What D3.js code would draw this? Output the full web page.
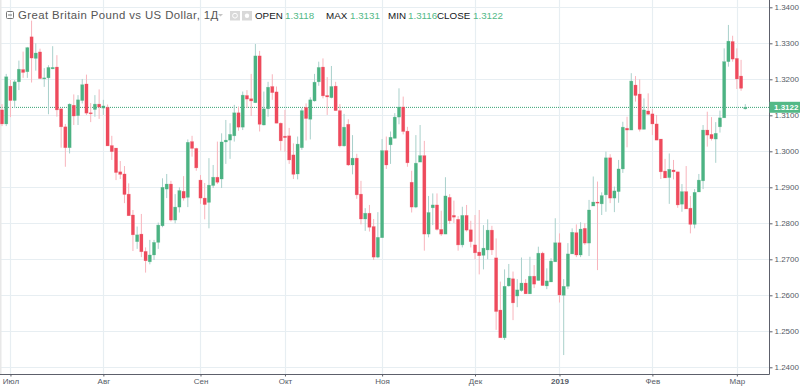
<!DOCTYPE html>
<html>
<head>
<meta charset="utf-8">
<script src="https://cdn.jsdelivr.net/npm/d3@7/dist/d3.min.js"></script>
<style>
  html, body { margin: 0; padding: 0; background: #fff; }
  svg { display: block; font-family: "Liberation Sans", Arial, sans-serif; }
  .axis path, .axis line { stroke: #5d606b; }
  .axis text { fill: #555b66; font-size: 8px; }
</style>
</head>
<body>
<svg width="800" height="387"></svg>
<script>
const opens = [
  1.3115,1.3076,1.3181,1.3141,1.3193,1.3227,1.3221,1.3318,1.3258,1.3276,
  1.3202,1.3204,1.3229,1.3234,1.3118,1.3068,1.3010,1.3128,1.3099,1.3141,
  1.3187,1.3107,1.3116,1.3131,1.3120,1.3122,1.3016,1.3009,1.2943,1.2937,
  1.2881,1.2823,1.2749,1.2770,1.2722,1.2693,1.2712,1.2747,1.2793,1.2895,
  1.2909,1.2809,1.2845,1.2889,1.2872,1.3027,1.3008,1.2920,1.2870,1.2858,
  1.2905,1.2928,1.2923,1.3026,1.3031,1.3043,1.3107,1.3067,1.3155,1.3146,
  1.3135,1.3265,1.3073,1.3118,1.3180,1.3165,1.3078,1.3042,1.3043,1.2990,
  1.2937,1.3010,1.3122,1.3089,1.3140,1.3193,1.3234,1.3155,1.3149,1.3181,
  1.3113,1.3015,1.3075,1.2962,1.2981,1.2881,1.2812,1.2828,1.2791,1.2706,
  1.2760,1.3002,1.3018,1.3036,1.3095,1.3123,1.3056,1.2914,1.2845,1.2970,
  1.2988,1.2770,1.2843,1.2851,1.2783,1.2770,1.2872,1.2822,1.2811,1.2740,
  1.2822,1.2782,1.2740,1.2720,1.2711,1.2726,1.2781,1.2704,1.2559,1.2482,
  1.2626,1.2646,1.2598,1.2613,1.2634,1.2604,1.2653,1.2641,1.2717,1.2626,
  1.2637,1.2693,1.2746,1.2600,1.2625,1.2715,1.2774,1.2712,1.2786,1.2745,
  1.2848,1.2859,1.2854,1.2879,1.2982,1.2870,1.2888,1.2951,1.3064,1.3059,
  1.3184,1.3159,1.3061,1.3112,1.3104,1.3076,1.3034,1.2945,1.2927,1.2948,
  1.2943,1.2853,1.2888,1.2842,1.2797,1.2887,1.2918,1.3059,1.3047,1.3034,
  1.3068,1.3093,1.3249,1.3305,1.3258,1.3209,1.3118
];
const closes = [
  1.3076,1.3207,1.3141,1.3193,1.3228,1.3219,1.3288,1.3259,1.3273,1.3202,
  1.3204,1.3233,1.3233,1.3115,1.3068,1.3010,1.3131,1.3098,1.3143,1.3185,
  1.3106,1.3106,1.3131,1.3123,1.3126,1.3015,1.2999,1.2941,1.2936,1.2880,
  1.2821,1.2768,1.2768,1.2721,1.2696,1.2712,1.2747,1.2795,1.2900,1.2909,
  1.2809,1.2845,1.2891,1.2870,1.3025,1.3008,1.2954,1.2870,1.2852,1.2906,
  1.2928,1.2914,1.3026,1.3031,1.3047,1.3107,1.3067,1.3156,1.3145,1.3140,
  1.3265,1.3075,1.3118,1.3178,1.3163,1.3078,1.3029,1.3038,1.2976,1.2936,
  1.3020,1.3113,1.3091,1.3143,1.3192,1.3233,1.3154,1.3151,1.3180,1.3113,
  1.3015,1.3067,1.2962,1.2981,1.2879,1.2812,1.2828,1.2789,1.2706,1.2761,
  1.3002,1.2962,1.3039,1.3095,1.3123,1.3055,1.2968,1.2845,1.2967,1.2988,
  1.2770,1.2830,1.2851,1.2783,1.2770,1.2876,1.2807,1.2817,1.2740,1.2822,
  1.2781,1.2749,1.2718,1.2710,1.2731,1.2781,1.2726,1.2555,1.2482,1.2625,
  1.2648,1.2579,1.2615,1.2634,1.2604,1.2653,1.2631,1.2717,1.2627,1.2640,
  1.2695,1.2746,1.2601,1.2625,1.2715,1.2775,1.2712,1.2784,1.2745,1.2837,
  1.2859,1.2856,1.2877,1.2982,1.2870,1.2890,1.2951,1.3067,1.3059,1.3195,
  1.3155,1.3061,1.3115,1.3103,1.3076,1.3031,1.2943,1.2926,1.2950,1.2943,
  1.2851,1.2888,1.2840,1.2797,1.2886,1.2920,1.3059,1.3045,1.3035,1.3050,
  1.3093,1.3249,1.3306,1.3256,1.3201,1.3175,1.3122
];
const highs = [
  1.3131,1.3215,1.3198,1.3198,1.3252,1.3277,1.3290,1.3363,1.3300,1.3285,
  1.3231,1.3239,1.3292,1.3267,1.3118,1.3076,1.3133,1.3158,1.3156,1.3201,
  1.3213,1.3134,1.3156,1.3172,1.3143,1.3130,1.3043,1.3009,1.2973,1.2959,
  1.2911,1.2837,1.2791,1.2826,1.2733,1.2754,1.2754,1.2802,1.2925,1.2937,
  1.2918,1.2881,1.2900,1.2931,1.3033,1.3043,1.3010,1.2934,1.2912,1.2981,
  1.2962,1.3027,1.3050,1.3087,1.3078,1.3129,1.3124,1.3166,1.3170,1.3215,
  1.3298,1.3279,1.3166,1.3193,1.3214,1.3180,1.3080,1.3115,1.3065,1.3022,
  1.3041,1.3120,1.3133,1.3150,1.3215,1.3249,1.3258,1.3206,1.3237,1.3193,
  1.3131,1.3104,1.3089,1.3045,1.2993,1.2918,1.2842,1.2851,1.2812,1.2831,
  1.3034,1.3041,1.3055,1.3106,1.3175,1.3152,1.3068,1.2946,1.3045,1.3073,
  1.3029,1.2876,1.2883,1.2883,1.2835,1.2928,1.2881,1.2863,1.2820,1.2846,
  1.2851,1.2807,1.2823,1.2837,1.2795,1.2811,1.2793,1.2758,1.2638,1.2672,
  1.2687,1.2666,1.2645,1.2705,1.2645,1.2707,1.2684,1.2735,1.2721,1.2675,
  1.2703,1.2814,1.2772,1.2645,1.2745,1.2786,1.2797,1.2803,1.2800,1.2865,
  1.2930,1.2916,1.2886,1.2999,1.2992,1.2902,1.2976,1.3082,1.3096,1.3217,
  1.3209,1.3200,1.3147,1.3161,1.3117,1.3101,1.3034,1.2979,1.2994,1.2976,
  1.2943,1.2909,1.2959,1.2876,1.2895,1.2937,1.3073,1.3110,1.3095,1.3081,
  1.3113,1.3286,1.3351,1.3321,1.3286,1.3254,1.3131
];
const lows = [
  1.3070,1.3070,1.3095,1.3120,1.3170,1.3204,1.3204,1.3191,1.3224,1.3202,
  1.3179,1.3103,1.3228,1.3096,1.3010,1.2957,1.2994,1.3073,1.3073,1.3133,
  1.3101,1.3081,1.3096,1.3090,1.3101,1.3015,1.2976,1.2920,1.2923,1.2856,
  1.2821,1.2723,1.2729,1.2706,1.2663,1.2686,1.2698,1.2729,1.2789,1.2870,
  1.2805,1.2800,1.2830,1.2863,1.2845,1.2985,1.2946,1.2854,1.2811,1.2786,
  1.2898,1.2909,1.2898,1.2965,1.2979,1.3027,1.3057,1.3059,1.3120,1.3098,
  1.3134,1.3055,1.3072,1.3096,1.3143,1.3078,1.3002,1.2999,1.2965,1.2923,
  1.2922,1.3004,1.3030,1.3033,1.3138,1.3182,1.3147,1.3101,1.3147,1.3113,
  1.3011,1.3013,1.2959,1.2936,1.2868,1.2797,1.2779,1.2777,1.2698,1.2703,
  1.2760,1.2951,1.2965,1.3036,1.3075,1.3047,1.2957,1.2830,1.2842,1.2970,
  1.2724,1.2761,1.2795,1.2780,1.2765,1.2770,1.2798,1.2801,1.2724,1.2733,
  1.2777,1.2733,1.2700,1.2658,1.2672,1.2700,1.2712,1.2504,1.2482,1.2476,
  1.2624,1.2531,1.2567,1.2610,1.2604,1.2604,1.2620,1.2641,1.2627,1.2617,
  1.2637,1.2693,1.2580,1.2434,1.2617,1.2715,1.2706,1.2706,1.2740,1.2709,
  1.2848,1.2670,1.2823,1.2832,1.2856,1.2831,1.2857,1.2940,1.3011,1.3059,
  1.3138,1.3055,1.3061,1.3101,1.3045,1.3031,1.2923,1.2926,1.2854,1.2922,
  1.2843,1.2832,1.2840,1.2772,1.2786,1.2887,1.2895,1.3013,1.3030,1.2968,
  1.3052,1.3093,1.3235,1.3249,1.3173,1.3168,1.3116
];
const priceTicks = [1.24,1.25,1.26,1.27,1.28,1.29,1.30,1.31,1.32,1.33,1.34];
const monthIndex = [2,24,47,67,90,112,132,154,174];
const monthLabels = ['Июл','Авг','Сен','Окт','Ноя','Дек','2019','Фев','Мар'];
const lastPrice = 1.3122;
const legendItems = [
  ['OPEN','1.3118',255,285],
  ['MAX','1.3131',326,350],
  ['MIN','1.3116',388,408],
  ['CLOSE','1.3122',437,473]
];

const green = '#4cb383';
const red = '#ee4a5c';
const greenWick = '#a9d0cb';
const redWick = '#f8b4bc';
const gridColor = '#e7eef2';

const svg = d3.select('svg');
const plotRight = 769.5;
const plotBottom = 374.5;

const xScale = d3.scaleLinear().domain([0, 176]).range([2, 745.3]);
const yScale = d3.scaleLinear().domain([1.24, 1.34]).range([367.3, 7.3]);

const candles = opens.map((o, i) => ({ i, o, c: closes[i], h: highs[i], l: lows[i] }));
const isUp = d => d.c >= d.o;

// grid
svg.append('g').selectAll('line').data(priceTicks).enter().append('line')
    .attr('x1', 0).attr('x2', plotRight)
    .attr('y1', d => Math.round(yScale(d)) + 0.5).attr('y2', d => Math.round(yScale(d)) + 0.5)
    .attr('stroke', gridColor).attr('stroke-width', 1.2);

svg.append('g').selectAll('line').data(monthIndex).enter().append('line')
    .attr('x1', d => Math.round(xScale(d)) + 0.5).attr('x2', d => Math.round(xScale(d)) + 0.5)
    .attr('y1', 0).attr('y2', plotBottom)
    .attr('stroke', gridColor).attr('stroke-width', 1.2);

svg.append('rect').attr('x', 0).attr('y', 0).attr('width', 1.5).attr('height', plotBottom).attr('fill', '#e8e8e8');

// last price line
svg.append('line')
    .attr('x1', 0).attr('x2', plotRight)
    .attr('y1', yScale(lastPrice)).attr('y2', yScale(lastPrice))
    .attr('stroke', '#3aa377').attr('stroke-width', 1).attr('stroke-dasharray', '1 1');

// wicks then bodies
svg.append('g').selectAll('line').data(candles).enter().append('line')
    .attr('x1', d => xScale(d.i)).attr('x2', d => xScale(d.i))
    .attr('y1', d => yScale(d.h)).attr('y2', d => yScale(d.l))
    .attr('stroke', d => isUp(d) ? greenWick : redWick).attr('stroke-width', 1);

svg.append('g').selectAll('rect').data(candles).enter().append('rect')
    .attr('x', d => xScale(d.i) - 1.6)
    .attr('width', 3.2)
    .attr('y', d => yScale(Math.max(d.o, d.c)))
    .attr('height', d => Math.max(1, Math.abs(yScale(d.o) - yScale(d.c))))
    .attr('fill', d => isUp(d) ? green : red)
    .attr('stroke', d => isUp(d) ? green : red)
    .attr('stroke-opacity', 0.35)
    .attr('stroke-width', 0.6);

// axes
const yAxis = d3.axisRight(yScale)
    .tickValues(priceTicks)
    .tickFormat(d3.format('.4f'))
    .tickSizeInner(3).tickSizeOuter(0).tickPadding(2);
const yAxisG = svg.append('g').attr('class', 'axis')
    .attr('transform', `translate(${plotRight},0)`)
    .call(yAxis);
yAxisG.select('.domain').attr('d', `M0,0V${plotBottom}`);

const xAxis = d3.axisBottom(xScale)
    .tickValues(monthIndex)
    .tickFormat((d, i) => monthLabels[i])
    .tickSizeInner(2).tickSizeOuter(0).tickPadding(2);
const xAxisG = svg.append('g').attr('class', 'axis')
    .attr('transform', `translate(0,${plotBottom})`)
    .call(xAxis);
xAxisG.select('.domain').attr('d', `M0,0H${plotRight}`);
xAxisG.selectAll('text').filter(d => d === 132).attr('font-weight', 'bold');

// last price tag
svg.append('rect')
    .attr('x', plotRight).attr('y', yScale(lastPrice) - 5.6)
    .attr('width', 800 - plotRight).attr('height', 11)
    .attr('fill', '#53b987');
svg.append('text')
    .attr('x', 774).attr('y', yScale(lastPrice) + 3)
    .attr('fill', '#fff').attr('font-size', 8).attr('font-weight', 'bold')
    .text(d3.format('.4f')(lastPrice));

// header
const header = svg.append('g');
header.append('rect').attr('x', 6.5).attr('y', 11.5).attr('width', 7).attr('height', 7).attr('rx', 1)
    .attr('fill', 'none').attr('stroke', '#777');
header.append('line').attr('x1', 8).attr('x2', 12).attr('y1', 15).attr('y2', 15).attr('stroke', '#777');
header.append('text').attr('x', 18).attr('y', 19)
    .attr('font-size', 11.4).attr('fill', '#555').attr('letter-spacing', 0.4)
    .text('Great Britain Pound vs US Dollar, 1Д');
header.append('path').attr('d', 'M218,14h5l-2.5,2.5z').attr('fill', '#c4c4c4');
header.selectAll('.btn').data([230, 242]).enter().append('rect')
    .attr('class', 'btn').attr('x', d => d).attr('y', 11).attr('width', 10).attr('height', 9.5)
    .attr('fill', '#d9d9d9');
header.append('circle').attr('cx', 235).attr('cy', 15.7).attr('r', 2.4).attr('fill', 'none').attr('stroke', '#fff');
header.append('circle').attr('cx', 247).attr('cy', 15.7).attr('r', 2.2).attr('fill', '#fff');

legendItems.forEach(([name, value, nameX, valueX]) => {
    header.append('text').attr('x', nameX).attr('y', 19).attr('font-size', 9.8).attr('fill', '#131722').text(name);
    header.append('text').attr('x', valueX).attr('y', 19).attr('font-size', 9.8).attr('fill', '#53b987').text(value);
});
</script>
</body>
</html>
